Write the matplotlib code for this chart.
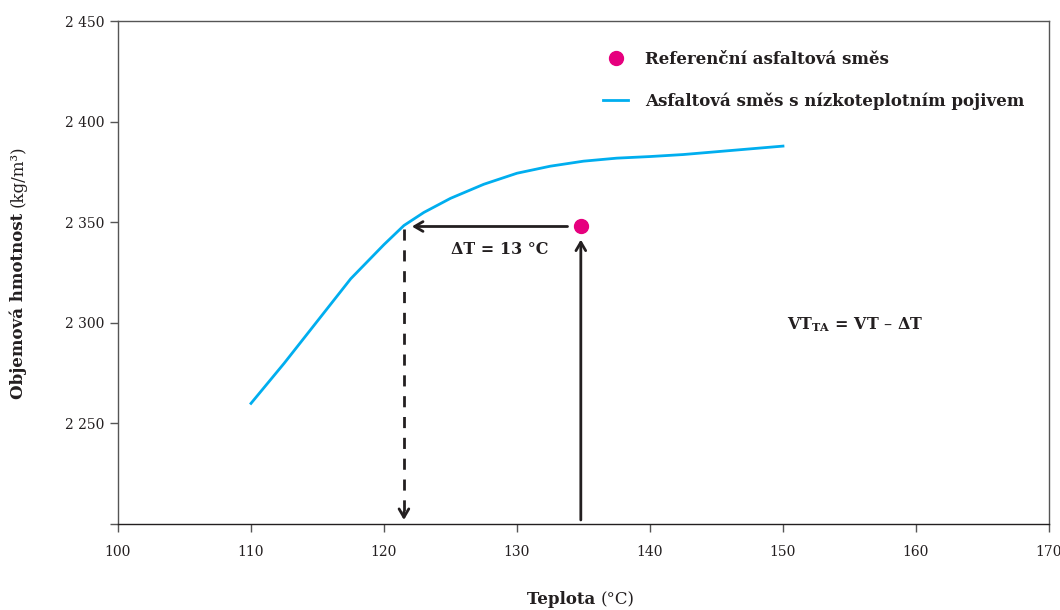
import matplotlib.pyplot as plt
from matplotlib.lines import Line2D

# curve of the mix with low-temperature binder
temps = [110, 112.5, 115, 117.5, 120, 121.5, 123, 125, 127.5, 130, 132.5, 135, 137.5, 140, 142.5, 145, 147.5, 150]
density = [2260, 2280, 2301, 2322, 2339, 2348.5, 2355, 2362, 2369, 2374.5, 2378, 2380.5, 2382, 2382.8, 2383.8, 2385.2, 2386.6, 2388]

# reference mix point
ref_temp = 134.8
ref_density = 2348
ta_temp = 121.5  # where the curve reaches the reference density

y_ticks = [2200, 2250, 2300, 2350, 2400, 2450]
y_labels = ["", "2 250", "2 300", "2 350", "2 400", "2 450"]
x_ticks = [100, 110, 120, 130, 140, 150, 160, 170]

cyan = "#00AEEF"
magenta = "#E6007E"
dark = "#231F20"

plt.rcParams['font.family'] = ['DejaVu Serif']
plt.rcParams['mathtext.fontset'] = 'dejavuserif'

fig = plt.figure(figsize=(10.6, 6.1), dpi=100)
ax = fig.add_axes([0.1113, 0.141, 0.8783, 0.8238])

ax.plot(temps, density, color=cyan, lw=2, zorder=3)
ax.plot([ref_temp], [ref_density], "o", color=magenta, ms=10, zorder=4)

y_bottom = 2202
arrow = dict(arrowstyle="->,head_length=0.6,head_width=0.35", color=dark, lw=2, shrinkA=0, shrinkB=0)

# solid vertical arrow up to the reference point
ax.annotate("", xy=(ref_temp, ref_density - 6.5), xytext=(ref_temp, y_bottom), arrowprops=arrow)
# horizontal arrow to the curve
ax.annotate("", xy=(ta_temp + 0.6, ref_density), xytext=(ref_temp - 1.0, ref_density), arrowprops=arrow)
# dashed drop-down line
ax.plot([ta_temp, ta_temp], [ref_density - 1, y_bottom + 3], color=dark, lw=2, ls=(0, (4, 3.5)))
ax.annotate("", xy=(ta_temp, y_bottom), xytext=(ta_temp, y_bottom + 4), arrowprops=arrow)

ax.text(128.7, ref_density - 11.5, "ΔT = 13 °C", fontsize=11.5, fontweight="bold",
        color=dark, ha="center", va="center")
ax.text(155.4, 2299, r"VT$_{\mathbf{TA}}$ = VT – ΔT", fontsize=11.5, fontweight="bold", color=dark,
        ha="center", va="center")

ax.set_xlim(100, 170)
ax.set_ylim(2200, 2450)
ax.set_xticks(x_ticks)
ax.set_yticks(y_ticks)
ax.set_yticklabels(y_labels)
ax.tick_params(axis="both", direction="out", length=6, width=1, color="#555555", labelsize=10,
               labelcolor=dark)
ax.tick_params(axis="x", pad=9)
ax.tick_params(axis="y", pad=3.5)
for s in ax.spines.values():
    s.set_color("#555555")
    s.set_linewidth(1)
ax.spines["bottom"].set_color(dark)

handles = [
    Line2D([], [], ls="none", marker="o", color=magenta, ms=10),
    Line2D([], [], color=cyan, lw=2),
]
leg = ax.legend(handles, ["Referenční asfaltová směs", "Asfaltová směs s nízkoteplotním pojivem"],
                loc="upper left", bbox_to_anchor=(0.505, 0.972), frameon=False, handlelength=1.5,
                handletextpad=1.0, labelspacing=1.5, prop=dict(weight="bold", size=12))
for t in leg.get_texts():
    t.set_color(dark)

# axis labels: bold word followed by regular unit
fig.text(0.567, 0.0165, "Teplota ", fontsize=12, fontweight="bold", color=dark, ha="right", va="center")
fig.text(0.567, 0.0165, "(°C)", fontsize=12, color=dark, ha="left", va="center")
fig.text(0.017, 0.661, "Objemová hmotnost ", fontsize=12, fontweight="bold", color=dark,
         rotation=90, ha="center", va="top")
fig.text(0.017, 0.661, "(kg/m³)", fontsize=12, color=dark, rotation=90, ha="center", va="bottom")

fig.savefig("out.png", dpi=100)
